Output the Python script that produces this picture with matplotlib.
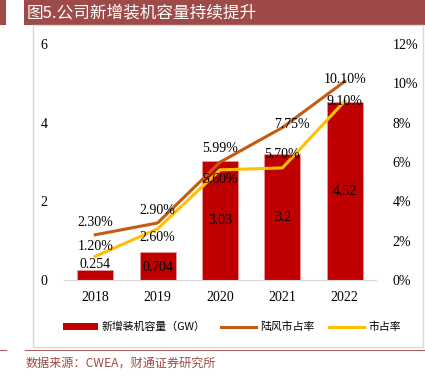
import matplotlib
matplotlib.use("Agg")
import matplotlib.pyplot as plt
from matplotlib.patches import Rectangle
from matplotlib.lines import Line2D
import numpy as np

plt.rcParams['font.family'] = ['Liberation Serif', 'Noto Sans CJK SC']

years = ['2018', '2019', '2020', '2021', '2022']
capacity = [0.254, 0.704, 3.03, 3.2, 4.52]
land_share = [2.30, 2.90, 5.99, 7.75, 10.10]
market_share = [1.20, 2.60, 5.60, 5.70, 9.10]
cap_labels = ['0.254', '0.704', '3.03', '3.2', '4.52']

W, H = 425, 377
fig = plt.figure(figsize=(W/100, H/100), dpi=100)

def fx(px):
    return px / W

def fy(py):
    return 1 - py / H

# banner
fig.patches.append(Rectangle((fx(0), fy(25)), fx(6), 25/H, transform=fig.transFigure,
                             facecolor='#9E4A48', edgecolor='none'))
fig.patches.append(Rectangle((fx(24), fy(25)), fx(401), 25/H, transform=fig.transFigure,
                             facecolor='#9E4A48', edgecolor='none'))
fig.text(fx(27), fy(13), '图5.公司新增装机容量持续提升', color='white', fontsize=12,
         family=['Noto Sans CJK SC'], va='center', ha='left')

# frame
fig.patches.append(Rectangle((fx(33), fy(347)), fx(390), (347-25)/H, transform=fig.transFigure,
                             facecolor='none', edgecolor='#D9D9D9', lw=1))
# separator line
fig.lines.append(Line2D([fx(0), fx(6)], [fy(350), fy(350)], transform=fig.transFigure,
                        color='#B06060', lw=0.8))
fig.lines.append(Line2D([fx(25), fx(425)], [fy(350), fy(350)], transform=fig.transFigure,
                        color='#B06060', lw=0.8))
fig.text(fx(26), fy(363), '数据来源：CWEA，财通证券研究所', color='#9E4A48', fontsize=8.7,
         family=['Noto Sans CJK SC'], va='center', ha='left')

ax = fig.add_axes([fx(64), fy(280), fx(312), 236/H])
x = np.arange(len(years))
ax.bar(x, capacity, width=0.58, color='#C00000', edgecolor='#E8A0A0', linewidth=0.5)
ax.set_xlim(-0.5, 4.5)
ax.set_ylim(0, 6)
ax.set_yticks([0, 2, 4, 6])
ax.set_xticks(x)
ax.set_xticklabels(years)
for s in ['top', 'right', 'left']:
    ax.spines[s].set_visible(False)
ax.spines['bottom'].set_color('#D9D9D9')
ax.tick_params(axis='both', length=0, labelsize=10)
ax.tick_params(axis='y', pad=12)
ax.tick_params(axis='x', pad=8)

bar_offsets = [(0, 4), (0, 0), (0, 0), (0, 0), (0, 0)]
for i, (v, lab) in enumerate(zip(capacity, cap_labels)):
    yv = v if i == 0 else v / 2
    if i == 1:
        yv = 0.33
    ax.annotate(lab, (i, yv), xytext=bar_offsets[i], textcoords='offset points',
                ha='center', va='center', fontsize=10)

ax2 = ax.twinx()
ax2.set_ylim(0, 12)
ax2.set_yticks([0, 2, 4, 6, 8, 10, 12])
ax2.set_yticklabels([f'{v}%' for v in [0, 2, 4, 6, 8, 10, 12]])
for s in ['top', 'right', 'left', 'bottom']:
    ax2.spines[s].set_visible(False)
ax2.tick_params(axis='y', length=0, labelsize=10, pad=12)

ax2.plot(x, land_share, color='#C55A11', lw=2.2)
ax2.plot(x, market_share, color='#FFC000', lw=2.2)

land_off = [(0, 9), (0, 9), (0, 10), (7, 2), (0, 1)]
mkt_off = [(0, 7), (0, -6), (0, -7), (0, 10), (0, 0)]
for i, v in enumerate(land_share):
    ax2.annotate(f'{v:.2f}%', (i, v), xytext=land_off[i], textcoords='offset points',
                 ha='center', va='center', fontsize=10)
for i, v in enumerate(market_share):
    ax2.annotate(f'{v:.2f}%', (i, v), xytext=mkt_off[i], textcoords='offset points',
                 ha='center', va='center', fontsize=10)

# legend
handles = [Rectangle((0, 0), 1, 1, facecolor='#C00000', edgecolor='none'),
           Line2D([], [], color='#C55A11', lw=2.2),
           Line2D([], [], color='#FFC000', lw=2.2)]
labels = ['新增装机容量（GW）', '陆风市占率', '市占率']
fig.legend(handles, labels, loc='center', bbox_to_anchor=(fx(232), fy(327)), ncol=3,
           frameon=False, prop={'family': ['Noto Sans CJK SC'], 'size': 7.8},
           handlelength=3.2, handleheight=0.6, columnspacing=1.4, handletextpad=0.4)

fig.savefig('out.png', dpi=100)
